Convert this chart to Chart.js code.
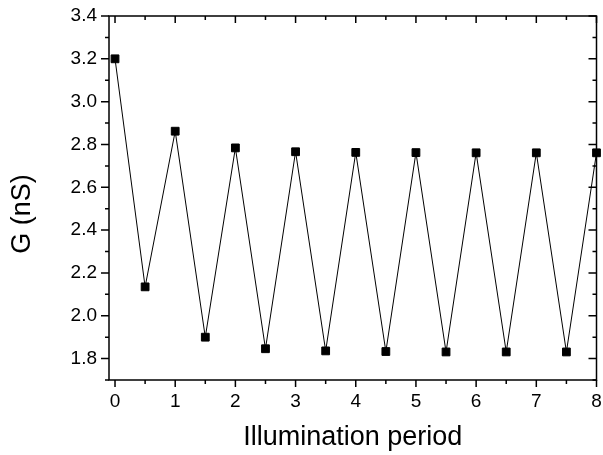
<!DOCTYPE html>
<html>
<head>
<meta charset="utf-8">
<script src="https://cdn.jsdelivr.net/npm/chart.js@4.4.0/dist/chart.umd.min.js"></script>
<style>
  html, body { margin: 0; padding: 0; background: #fff; overflow: hidden; }
  #wrap { width: 603px; height: 455px; position: relative; }
</style>
</head>
<body>
<div id="wrap"><canvas id="grafico"></canvas></div>
<script>
// valores
const periodos = [0, 0.5, 1, 1.5, 2, 2.5, 3, 3.5, 4, 4.5, 5, 5.5, 6, 6.5, 7, 7.5, 8];
const condutancia = [3.20, 2.135, 2.862, 1.900, 2.784, 1.846, 2.766, 1.836, 2.763, 1.833, 2.762, 1.831, 2.761, 1.831, 2.761, 1.831, 2.761];

// ticks dos eixos
const xTicks = [0, 1, 2, 3, 4, 5, 6, 7, 8];
const xMinor = [0.5, 1.5, 2.5, 3.5, 4.5, 5.5, 6.5, 7.5];
const yTicks = [1.8, 2.0, 2.2, 2.4, 2.6, 2.8, 3.0, 3.2, 3.4];
const yMinor = [1.7, 1.9, 2.1, 2.3, 2.5, 2.7, 2.9, 3.1, 3.3];

const fonte = '"Liberation Sans", Arial, sans-serif';

// moldura + marcas (externas embaixo/esquerda, internas em cima/direita) + título do eixo y
const marcas = {
  id: 'marcas',
  afterDraw(chart) {
    const { ctx, chartArea: a, scales: { x, y } } = chart;
    ctx.save();
    ctx.strokeStyle = '#000';
    ctx.lineWidth = 1.5;
    ctx.strokeRect(a.left, a.top, a.right - a.left, a.bottom - a.top);
    ctx.beginPath();
    const marcaX = (v, len) => {
      const px = x.getPixelForValue(v);
      ctx.moveTo(px, a.bottom); ctx.lineTo(px, a.bottom + len);
      ctx.moveTo(px, a.top); ctx.lineTo(px, a.top + len);
    };
    const marcaY = (v, len) => {
      const py = y.getPixelForValue(v);
      ctx.moveTo(a.left, py); ctx.lineTo(a.left - len, py);
      ctx.moveTo(a.right, py); ctx.lineTo(a.right - len, py);
    };
    xTicks.forEach(v => marcaX(v, 7));
    xMinor.forEach(v => marcaX(v, 4));
    yTicks.forEach(v => marcaY(v, 8));
    yMinor.forEach(v => marcaY(v, 4));
    ctx.stroke();

    ctx.fillStyle = '#000';
    ctx.font = '27px ' + fonte;
    ctx.textAlign = 'center';
    ctx.textBaseline = 'middle';
    ctx.translate(22.5, (a.top + a.bottom) / 2 + 16);
    ctx.rotate(-Math.PI / 2);
    ctx.fillText('G (nS)', 0, 0);
    ctx.restore();
  }
};

const ctx = document.getElementById('grafico').getContext('2d');
new Chart(ctx, {
  type: 'line',
  data: {
    datasets: [{
      data: periodos.map((p, i) => ({ x: p, y: condutancia[i] })),
      borderColor: '#000',
      borderWidth: 1,
      backgroundColor: '#000',
      pointStyle: 'rect',
      pointRadius: 5.5,
      pointBorderWidth: 1,
      pointBorderColor: '#000',
      pointBackgroundColor: '#000',
      tension: 0,
      clip: false
    }]
  },
  options: {
    responsive: true,
    maintainAspectRatio: false,
    animation: false,
    layout: { padding: { top: 16, right: 2, left: 0, bottom: 0 } },
    plugins: { legend: { display: false }, tooltip: { enabled: false } },
    scales: {
      x: {
        type: 'linear',
        min: -0.1,
        max: 8,
        afterBuildTicks: s => { s.ticks = xTicks.map(v => ({ value: v })); },
        afterFit: s => { s.height = 75; s.paddingLeft = 0; s.paddingRight = 0; },
        grid: { display: false, drawTicks: false },
        border: { display: false },
        ticks: { color: '#000', padding: 10.5, maxRotation: 0, font: { family: fonte, size: 19 }, callback: v => String(v) },
        title: { display: true, text: 'Illumination period', color: '#000', padding: { top: 0, bottom: 1 }, font: { family: fonte, size: 27 } }
      },
      y: {
        min: 1.7,
        max: 3.4,
        afterBuildTicks: s => { s.ticks = yTicks.map(v => ({ value: v })); },
        afterFit: s => { s.width = 109; s.paddingTop = 0; s.paddingBottom = 0; },
        grid: { display: false, drawTicks: false },
        border: { display: false },
        ticks: { color: '#000', padding: 12, font: { family: fonte, size: 19 }, callback: v => Number(v).toFixed(1) }
      }
    }
  },
  plugins: [marcas]
});
</script>
</body>
</html>
